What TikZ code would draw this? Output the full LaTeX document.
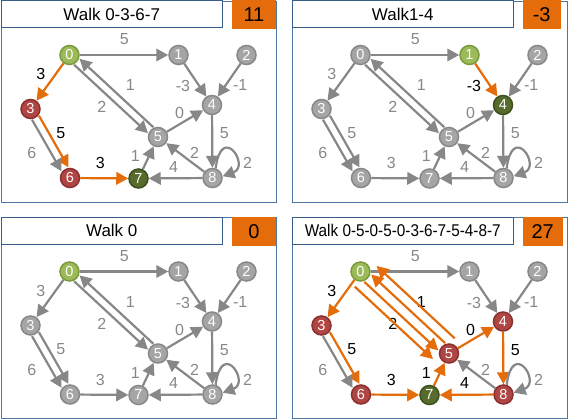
\documentclass[tikz,border=0pt]{standalone}
\usepackage{fontspec}
\setmainfont{Liberation Sans}
\usepackage{graphicx}
\usetikzlibrary{calc,arrows.meta}
\definecolor{egray}{HTML}{878787}
\definecolor{ngfill}{HTML}{A5A5A5}
\definecolor{ngdraw}{HTML}{888888}
\definecolor{lgfill}{HTML}{9BBB59}
\definecolor{lgdraw}{HTML}{7B9B3C}
\definecolor{dgfill}{HTML}{566B2C}
\definecolor{dgdraw}{HTML}{3F5020}
\definecolor{rfill}{HTML}{B04644}
\definecolor{rdraw}{HTML}{8A302E}
\definecolor{orng}{HTML}{E46C0A}
\definecolor{tblue}{HTML}{385D8A}
\definecolor{fblue}{HTML}{4F74A8}
\tikzset{
  gn/.style={circle, minimum size=19pt, inner sep=0pt, line width=1.5pt, text=white, font=\fontsize{14.5}{14.5}\selectfont},
  nG/.style={gn, fill=ngfill, draw=ngdraw},
  nL/.style={gn, fill=lgfill, draw=lgdraw},
  nD/.style={gn, fill=dgfill, draw=dgdraw},
  nR/.style={gn, fill=rfill, draw=rdraw},
  tipend/.style={-{Triangle[length=12pt,width=12.5pt]}},
  eG/.style={tipend, draw=egray, line width=2.2pt},
  eO/.style={tipend, draw=orng, line width=2.2pt},
  lab/.style={font=\fontsize{16}{16}\selectfont, inner sep=0pt},
  lG/.style={lab, text=egray},
  lB/.style={lab, text=black},
  titlebox/.style={draw=tblue, fill=white, line width=1.5pt, minimum width=221pt, minimum height=27pt, inner sep=0pt, font=\fontsize{17}{17}\selectfont},
  valbox/.style={fill=orng, minimum height=29pt, inner sep=0pt, font=\fontsize{20}{20}\selectfont},
  frameline/.style={draw=fblue, line width=0.9pt},
  s0/.style=nG, s1/.style=nG, s2/.style=nG, s3/.style=nG, s4/.style=nG,
  s5/.style=nG, s6/.style=nG, s7/.style=nG, s8/.style=nG,
  E01/.style=eG, E14/.style=eG, E24/.style=eG, E03/.style=eG, E36a/.style=eG,
  E36b/.style=eG, E05/.style=eG, E50/.style=eG, E54/.style=eG, E48/.style=eG,
  E88/.style=eG, E85/.style=eG, E87/.style=eG, E75/.style=eG, E67/.style=eG,
  L01/.style=lG, L14/.style=lG, L24/.style=lG, L03/.style=lG, L36a/.style=lG,
  L36b/.style=lG, L05/.style=lG, L50/.style=lG, L54/.style=lG, L48/.style=lG,
  L88/.style=lG, L85/.style=lG, L87/.style=lG, L75/.style=lG, L67/.style=lG,
}
\newcommand\hl[1]{\tikzset{E#1/.style=eO,L#1/.style=lB}}
% edge offset to the left (counter-clockwise side) of its direction
\newcommand\ledge[6]{\draw[#1] ($(#2)!#5pt!(#3)!#4pt!90:(#3)$) -- ($(#3)!#6pt!(#2)!#4pt!-90:(#2)$);}
% edge offset to the right (clockwise side) of its direction
\newcommand\redge[6]{\draw[#1] ($(#2)!#5pt!(#3)!#4pt!-90:(#3)$) -- ($(#3)!#6pt!(#2)!#4pt!90:(#2)$);}
\newcommand\inoff{4}
\newcommand\panelbody[4]{%
  \draw[frameline] (-68,-54) rectangle (206.5,147);
  \node[titlebox, anchor=north west] (#1t) at (-69,-55) {#3};
  \node[valbox, minimum width=#2pt, anchor=north west] (#1v) at (162,-55) {#4};
  \node[s0] (#10) at (0,0) {0};
  \node[s1] (#11) at (109,0) {1};
  \node[s2] (#12) at (177,0) {2};
  \node[s3] (#13) at (-39,54) {3};
  \node[s4] (#14) at (142.5,50) {4};
  \node[s5] (#15) at (88.5,82) {5};
  \node[s6] (#16) at (0.5,123) {6};
  \node[s7] (#17) at (69,123.5) {7};
  \node[s8] (#18) at (143,123) {8};
  \draw[E01] (#10) -- (#11);
  \draw[E14] (#11) -- (#14);
  \draw[E24] (#12) -- (#14);
  \draw[E03] (#10) -- (#13);
  \ledge{E36a}{#13}{#16}{4}{10}{10}
  \redge{E36b}{#13}{#16}{4}{10}{10}
  \redge{E05}{#10}{#15}{\inoff}{10}{10}
  \redge{E50}{#15}{#10}{\inoff}{10}{10}
  \draw[E54] (#15) -- (#14);
  \draw[E48] (#14) -- (#18);
  \draw[E88] (#18.72) .. controls +(6,-46) and +(28,-10) .. (#18.10);
  \draw[E85] (#18) -- (#15);
  \draw[E87] (#18) -- (#17);
  \draw[E75] (#17) -- (#15);
  \draw[E67] (#16) -- (#17);
  \node[L01] (#1l01) at (54.7,-15.7) {5};
  \node[L14] (#1l14) at (113.4,31) {-3};
  \node[L24] (#1l24) at (170.7,30) {-1};
  \node[L03] (#1l03) at (-28.6,19) {3};
  \node[L36a] (#1l36a) at (-8.6,77.7) {5};
  \node[L36b] (#1l36b) at (-37.6,98.3) {6};
  \node[L05] (#1l05) at (32.4,52.3) {2};
  \node[L50] (#1l50) at (60.7,30) {1};
  \node[L54] (#1l54) at (110,58.3) {0};
  \node[L48] (#1l48) at (154.7,78.3) {5};
  \node[L88] (#1l88) at (178,108.3) {2};
  \node[L85] (#1l85) at (125,98.3) {2};
  \node[L87] (#1l87) at (104,111.7) {4};
  \node[L75] (#1l75) at (65.7,101) {1};
  \node[L67] (#1l67) at (30.7,108.3) {3};
}
\begin{document}
\begin{tikzpicture}[x=1pt, y=-1pt]
\useasboundingbox (0,0) rectangle (568,420);
\begin{scope}[shift={(69.5,55)}]
  \hl{03}\hl{36a}\hl{67}
  \tikzset{s0/.style=nL, s3/.style=nR, s6/.style=nR, s7/.style=nD}
  \panelbody{a}{44.5}{Walk 0-3-6-7}{11}
\end{scope}
\begin{scope}[shift={(360.5,55)}]
  \hl{14}
  \tikzset{s1/.style=nL, s4/.style=nD}
  \panelbody{b}{38}{Walk1-4}{-3}
\end{scope}
\begin{scope}[shift={(69.5,271.5)}]
  \tikzset{s0/.style=nL}
  \panelbody{c}{44.5}{Walk 0}{0}
\end{scope}
\begin{scope}[shift={(360.5,271.5)}]
  \hl{03}\hl{36a}\hl{67}\hl{75}\hl{54}\hl{48}\hl{87}\hl{05}\hl{50}
  \tikzset{s0/.style=nL, s3/.style=nR, s4/.style=nR, s5/.style=nR, s6/.style=nR, s7/.style=nD, s8/.style=nR}
  \renewcommand\inoff{5}
  \panelbody{d}{40}{\scalebox{0.9}[1]{Walk 0-5-0-5-0-3-6-7-5-4-8-7}}{27}
  \redge{eO}{d0}{d5}{15}{6}{8}
  \redge{eO}{d5}{d0}{15}{6}{8}
\end{scope}
\end{tikzpicture}
\end{document}
